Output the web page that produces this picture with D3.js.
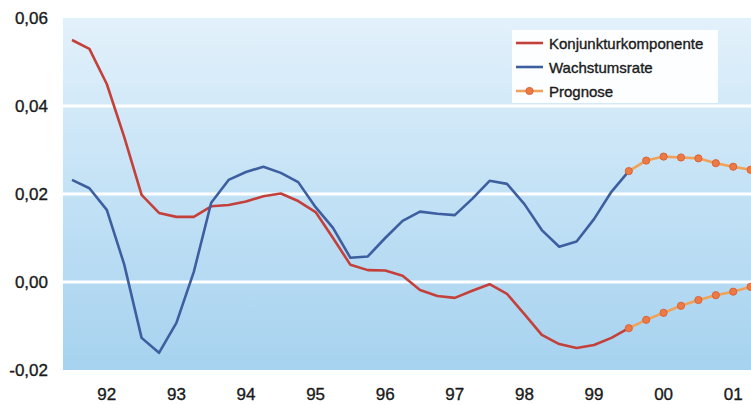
<!DOCTYPE html>
<html>
<head>
<meta charset="utf-8">
<script src="https://cdn.jsdelivr.net/npm/d3@7"></script>
<style>
  html, body { margin: 0; padding: 0; background: #ffffff; }
  svg { display: block; }
  text { font-family: "Liberation Sans", Arial, sans-serif; fill: #1a1a1a; stroke: #1a1a1a; stroke-width: 0.35; }
</style>
</head>
<body>
<svg id="chart" width="751" height="405"></svg>
<script>
// ---- data (quarterly, starting 1992 Q1) ----
const startYear = 1992;
const konjunktur = [
  0.0550, 0.0530, 0.0450, 0.0330,
  0.0198, 0.0157, 0.0148, 0.0148,
  0.0172, 0.0175, 0.0183, 0.0195,
  0.0201, 0.0184, 0.0159, 0.0100,
  0.0039, 0.0027, 0.0026, 0.0014,
  -0.0018, -0.0032, -0.0036, -0.0020,
  -0.0005, -0.0027, -0.0073, -0.0120,
  -0.0141, -0.0150, -0.0143, -0.0127,
  -0.0105
];
const wachstum = [
  0.0232, 0.0213, 0.0164, 0.0040,
  -0.0127, -0.0161, -0.0093, 0.0023,
  0.0180, 0.0232, 0.0250, 0.0262,
  0.0248, 0.0227, 0.0170, 0.0123,
  0.0055, 0.0058, 0.0100, 0.0139,
  0.0160, 0.0155, 0.0152, 0.0189,
  0.0230, 0.0223, 0.0177, 0.0118,
  0.0080, 0.0092, 0.0143, 0.0205,
  0.0252
];
const prognoseStartIndex = 32; // 2000 Q1
const prognoseWachstum = [0.0252, 0.0276, 0.0285, 0.0283, 0.0281, 0.0270, 0.0262, 0.0255];
const prognoseKonjunktur = [-0.0105, -0.0086, -0.0070, -0.0054, -0.0041, -0.0030, -0.0022, -0.0011];
const yearLabels = ["92", "93", "94", "95", "96", "97", "98", "99", "00", "01"];
const yTicks = [0.06, 0.04, 0.02, 0.00, -0.02];
const gridValues = [0.04, 0.02, 0.00];
const legendItems = [
  { name: "Konjunkturkomponente", color: "#c4403a", marker: false },
  { name: "Wachstumsrate", color: "#3d5f9f", marker: false },
  { name: "Prognose", color: "#f0a25a", marker: true }
];

// ---- layout ----
const svg = d3.select("#chart");
const x = d3.scaleLinear().domain([1992, 2001.75]).range([72, 750.6]);
const y = d3.scaleLinear().domain([-0.02, 0.06]).range([370, 18]);
const qx = i => x(startYear + i / 4);

// background gradient
const defs = svg.append("defs");
const grad = defs.append("linearGradient").attr("id", "bg").attr("x1", 0).attr("y1", 0).attr("x2", 0).attr("y2", 1);
grad.append("stop").attr("offset", "0%").attr("stop-color", "#e3f1fb");
grad.append("stop").attr("offset", "45%").attr("stop-color", "#c6e3f6");
grad.append("stop").attr("offset", "100%").attr("stop-color", "#a6d2ef");

const bgX0 = x(1991.87);
svg.append("rect")
  .attr("x", bgX0).attr("y", y(0.06))
  .attr("width", 751 - bgX0).attr("height", y(-0.02) - y(0.06))
  .attr("fill", "url(#bg)");

// grid lines
svg.append("g").selectAll("line").data(gridValues).join("line")
  .attr("x1", bgX0).attr("x2", 751)
  .attr("y1", d => y(d)).attr("y2", d => y(d))
  .attr("stroke", "#ffffff").attr("stroke-width", 3);

// y axis labels
const fmt = d => d3.format(".2f")(d).replace(".", ",").replace("−", "-");
svg.append("g").selectAll("text").data(yTicks).join("text")
  .attr("x", 48).attr("y", d => y(d))
  .attr("text-anchor", "end").attr("dominant-baseline", "central")
  .attr("font-size", 17)
  .text(fmt);

// x axis labels (mid-year)
svg.append("g").selectAll("text").data(yearLabels).join("text")
  .attr("x", (d, i) => x(startYear + i + 0.5))
  .attr("y", 400)
  .attr("text-anchor", "middle")
  .attr("font-size", 17)
  .text(d => d);

// lines
const line = d3.line().x(d => d[0]).y(d => y(d[1]));
const konjPts = konjunktur.map((v, i) => [qx(i), v]);
const wachPts = wachstum.map((v, i) => [qx(i), v]);
const progW = prognoseWachstum.map((v, i) => [qx(prognoseStartIndex + i), v]);
const progK = prognoseKonjunktur.map((v, i) => [qx(prognoseStartIndex + i), v]);

svg.append("path").datum(konjPts).attr("d", line)
  .attr("fill", "none").attr("stroke", legendItems[0].color).attr("stroke-width", 2.6)
  .attr("stroke-linejoin", "round");
svg.append("path").datum(wachPts).attr("d", line)
  .attr("fill", "none").attr("stroke", legendItems[1].color).attr("stroke-width", 2.6)
  .attr("stroke-linejoin", "round");

[progW, progK].forEach(pts => {
  svg.append("path").datum(pts).attr("d", line)
    .attr("fill", "none").attr("stroke", legendItems[2].color).attr("stroke-width", 2.6);
  svg.append("g").selectAll("circle").data(pts).join("circle")
    .attr("cx", d => d[0]).attr("cy", d => y(d[1])).attr("r", 3.6)
    .attr("fill", "#ec7a45").attr("stroke", "#d9643a").attr("stroke-width", 1);
});

// legend
const lg = svg.append("g");
lg.append("rect").attr("x", 512).attr("y", 30).attr("width", 206).attr("height", 73)
  .attr("fill", "#ffffff").attr("fill-opacity", 0.92);
legendItems.forEach((it, i) => {
  const cy = 43 + i * 24;
  lg.append("line").attr("x1", 516).attr("x2", 543).attr("y1", cy).attr("y2", cy)
    .attr("stroke", it.color).attr("stroke-width", 2.6);
  if (it.marker) {
    lg.append("circle").attr("cx", 529.5).attr("cy", cy).attr("r", 3.6)
      .attr("fill", "#ec7a45").attr("stroke", "#d9643a").attr("stroke-width", 1);
  }
  lg.append("text").attr("x", 549).attr("y", cy).attr("dominant-baseline", "central")
    .attr("font-size", 15).text(it.name);
});
</script>
</body>
</html>
